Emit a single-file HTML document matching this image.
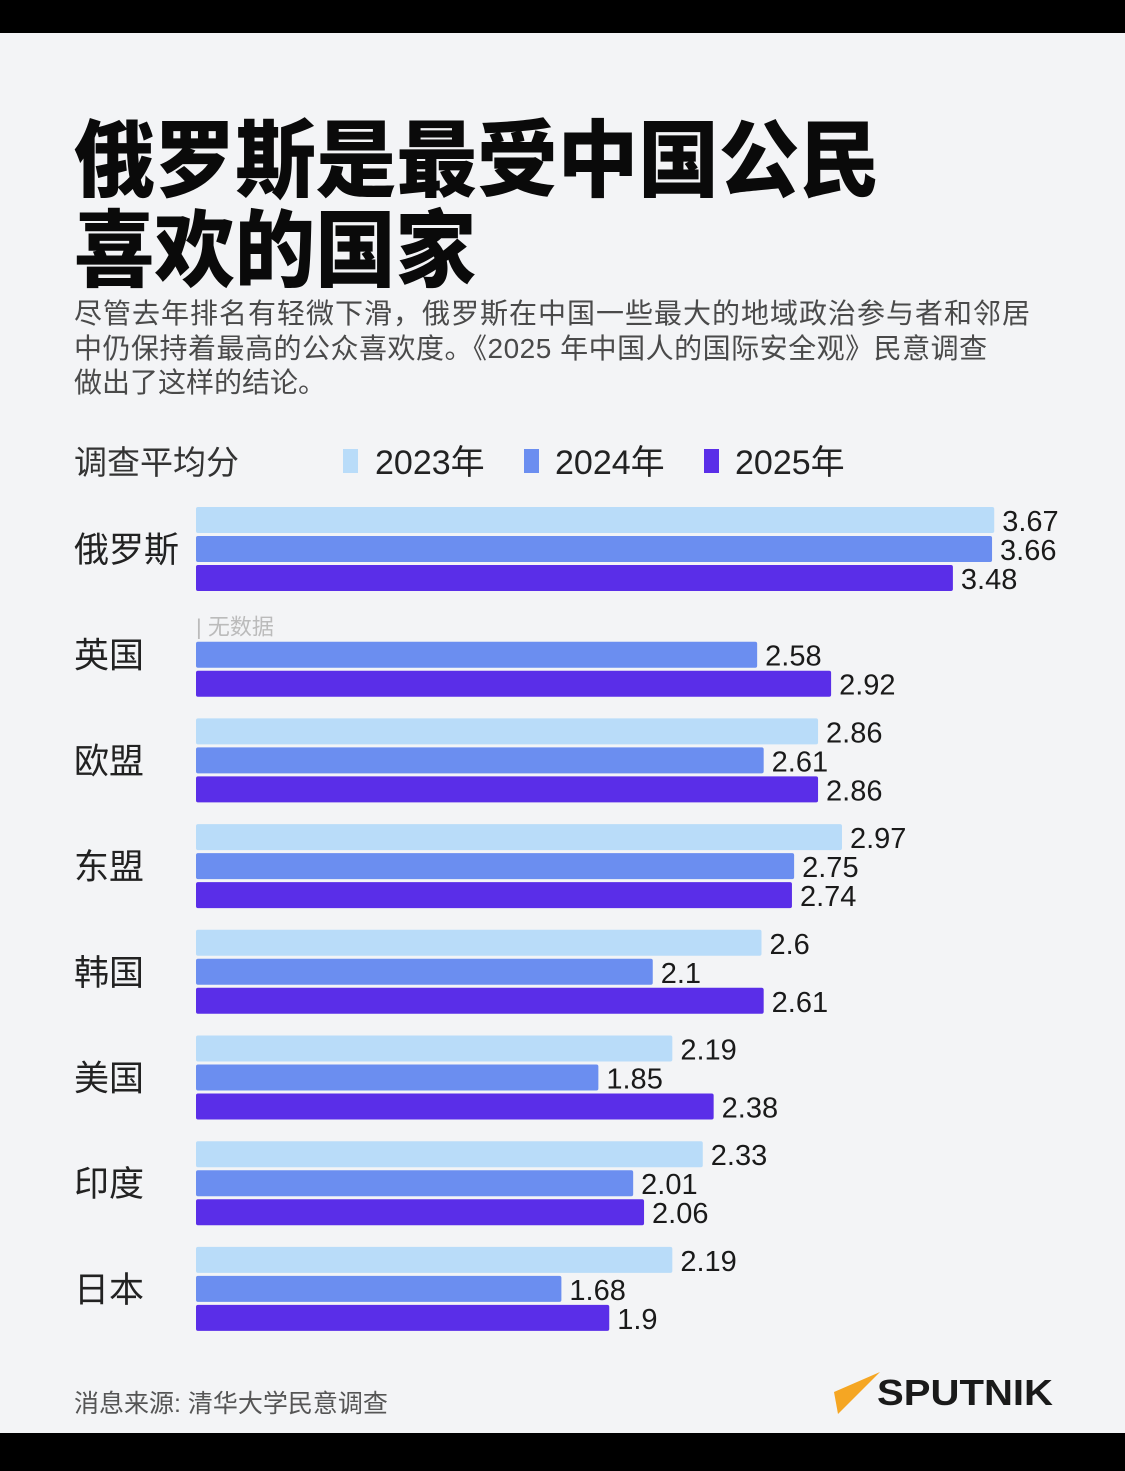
<!DOCTYPE html>
<html><head><meta charset="utf-8"><style>
html,body{margin:0;padding:0;background:#000;}
#page{position:relative;width:1125px;height:1471px;overflow:hidden;background:#000;}
svg{position:absolute;left:0;top:0;}
text{font-family:"Liberation Sans","Noto Sans CJK SC",sans-serif;}
</style></head><body>
<div id="page">
<svg id="chart" width="1125" height="1471">
<rect x="0" y="33" width="1125" height="1400" fill="#f3f4f6"/>
<text x="74" y="190" font-size="84" font-weight="900" textLength="806" lengthAdjust="spacingAndGlyphs" fill="#0a0a0a" style="font-family:'Noto Sans CJK SC',sans-serif">俄罗斯是最受中国公民</text>
<text x="74" y="280" font-size="84" font-weight="900" textLength="402" lengthAdjust="spacingAndGlyphs" fill="#0a0a0a" style="font-family:'Noto Sans CJK SC',sans-serif">喜欢的国家</text>
<g font-size="28" fill="#4a4a4a">
<text x="74" y="323" letter-spacing="1">尽管去年排名有轻微下滑，俄罗斯在中国一些最大的地域政治参与者和邻居</text>
<text x="74" y="358" letter-spacing="0.5">中仍保持着最高的公众喜欢度。《2025 年中国人的国际安全观》民意调查</text>
<text x="74" y="392">做出了这样的结论。</text>
</g>
<text x="74" y="474" font-size="33" fill="#333">调查平均分</text>
<g>
<rect x="343" y="449" width="15" height="24" fill="#b9dcf9"/>
<text x="375" y="474" font-size="34" fill="#222">2023年</text>
<rect x="524" y="449" width="15" height="24" fill="#6b8ef0"/>
<text x="555" y="474" font-size="34" fill="#222">2024年</text>
<rect x="704" y="449" width="15" height="24" fill="#5a2ee8"/>
<text x="735" y="474" font-size="34" fill="#222">2025年</text>
</g>
<g id="bars"></g>
<text x="74" y="1412" font-size="25" fill="#555">消息来源: 清华大学民意调查</text>
<g>
<path d="M880 1372 L834 1392 L838 1414 Z" fill="#f5a623"/>
<text x="877" y="1405" font-size="36" font-weight="bold" textLength="176" lengthAdjust="spacingAndGlyphs" fill="#1a1a1a">SPUTNIK</text>
</g>
</svg>
</div>
<script>
const categories=["俄罗斯","英国","欧盟","东盟","韩国","美国","印度","日本"];
const v2023=[3.67,null,2.86,2.97,2.6,2.19,2.33,2.19];
const v2024=[3.66,2.58,2.61,2.75,2.1,1.85,2.01,1.68];
const v2025=[3.48,2.92,2.86,2.74,2.61,2.38,2.06,1.9];
const labels2023=["3.67","","2.86","2.97","2.6","2.19","2.33","2.19"];
const labels2024=["3.66","2.58","2.61","2.75","2.1","1.85","2.01","1.68"];
const labels2025=["3.48","2.92","2.86","2.74","2.61","2.38","2.06","1.9"];
const NS="http://www.w3.org/2000/svg";
const x0=196,scale=217.5,groupTop=520,groupPitch=105.7,barPitch=29,barH=26;
const xs=v=>x0+v*scale;
const ys=(i,j)=>groupTop+i*groupPitch+j*barPitch;
const g=document.getElementById('bars');
const series=[[v2023,labels2023,"#b9dcf9","2023"],[v2024,labels2024,"#6b8ef0","2024"],[v2025,labels2025,"#5a2ee8","2025"]];
categories.forEach((c,i)=>{
  const t=document.createElementNS(NS,'text');
  t.setAttribute('x',74);t.setAttribute('y',ys(i,1)+13);
  t.setAttribute('font-size','35');t.setAttribute('fill','#222');
  t.textContent=c;
  
  
  g.appendChild(t);
  series.forEach((s,j)=>{
    const v=s[0][i];const cy=ys(i,j);
    if(v==null){
      const n=document.createElementNS(NS,'text');
      n.setAttribute('x',196);n.setAttribute('y',cy+9);
      n.setAttribute('font-size','22');n.setAttribute('fill','#bbb');
      n.textContent='| 无数据';
      
      
      g.appendChild(n);return;
    }
    const r=document.createElementNS(NS,'rect');
    r.setAttribute('x',x0);r.setAttribute('y',cy-barH/2);
    r.setAttribute('width',xs(v)-x0);r.setAttribute('height',barH);
    r.setAttribute('rx',2);r.setAttribute('fill',s[2]);
    
    
    g.appendChild(r);
    const l=document.createElementNS(NS,'text');
    l.setAttribute('x',xs(v)+8);l.setAttribute('y',cy+11);
    l.setAttribute('font-size','29');l.setAttribute('fill','#1a1a1a');
    l.textContent=s[1][i];
    
    
    g.appendChild(l);
  });
});
</script>
</body></html>
